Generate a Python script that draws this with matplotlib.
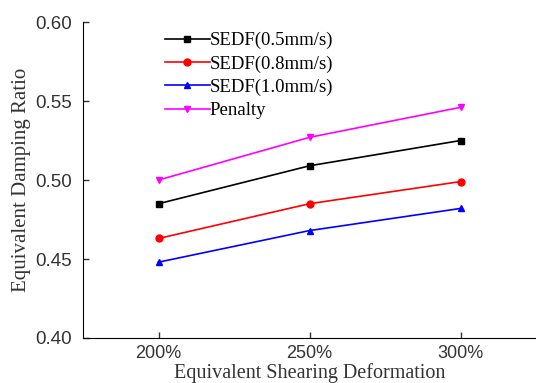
import numpy as np
import matplotlib.pyplot as plt

# Datos
deformacion = [200, 250, 300]
etiquetas_x = ["200%", "250%", "300%"]
sedf_05 = [0.485, 0.509, 0.525]
sedf_08 = [0.463, 0.485, 0.499]
sedf_10 = [0.448, 0.468, 0.482]
penalty = [0.500, 0.527, 0.546]

fig = plt.figure(figsize=(5.36, 3.83), dpi=100)
ax = fig.add_axes([0.155, 0.1175, 0.845, 0.825])

ax.plot(deformacion, sedf_05, "-s", color="black", lw=1.2, ms=5, label="SEDF(0.5mm/s)")
ax.plot(deformacion, sedf_08, "-o", color="red", lw=1.2, ms=5, label="SEDF(0.8mm/s)")
ax.plot(deformacion, sedf_10, "-^", color="blue", lw=1.2, ms=5, label="SEDF(1.0mm/s)")
ax.plot(deformacion, penalty, "-v", color="magenta", lw=1.2, ms=5, label="Penalty")

ax.set_xlim(175, 325)
ax.set_ylim(0.40, 0.60)
ax.set_xticks(deformacion)
ax.set_xticklabels(etiquetas_x)
ax.set_yticks([0.40, 0.45, 0.50, 0.55, 0.60])

ax.spines["top"].set_visible(False)
ax.spines["right"].set_visible(False)
ax.tick_params(direction="in", length=4, width=1, labelsize=13, colors="#333333")
ax.tick_params(axis="x", pad=5)
ax.tick_params(axis="y", pad=8, labelsize=13.5)
for lab in ax.get_xticklabels() + ax.get_yticklabels():
    lab.set_family("Liberation Sans")
    lab.set_color("#333333")

ax.set_xlabel("Equivalent Shearing Deformation", family="Liberation Serif",
              fontsize=14.5, color="#333333", labelpad=1)
ax.set_ylabel("Equivalent Damping Ratio", family="Liberation Serif",
              fontsize=15, color="#333333", labelpad=3)

ax.legend(loc="upper left", bbox_to_anchor=(0.164, 0.992), frameon=False,
          prop={"family": "Liberation Serif", "size": 13.5}, handlelength=2.4,
          handletextpad=0.0, labelspacing=0.32, borderaxespad=0)

fig.savefig("out.png", dpi=100)
